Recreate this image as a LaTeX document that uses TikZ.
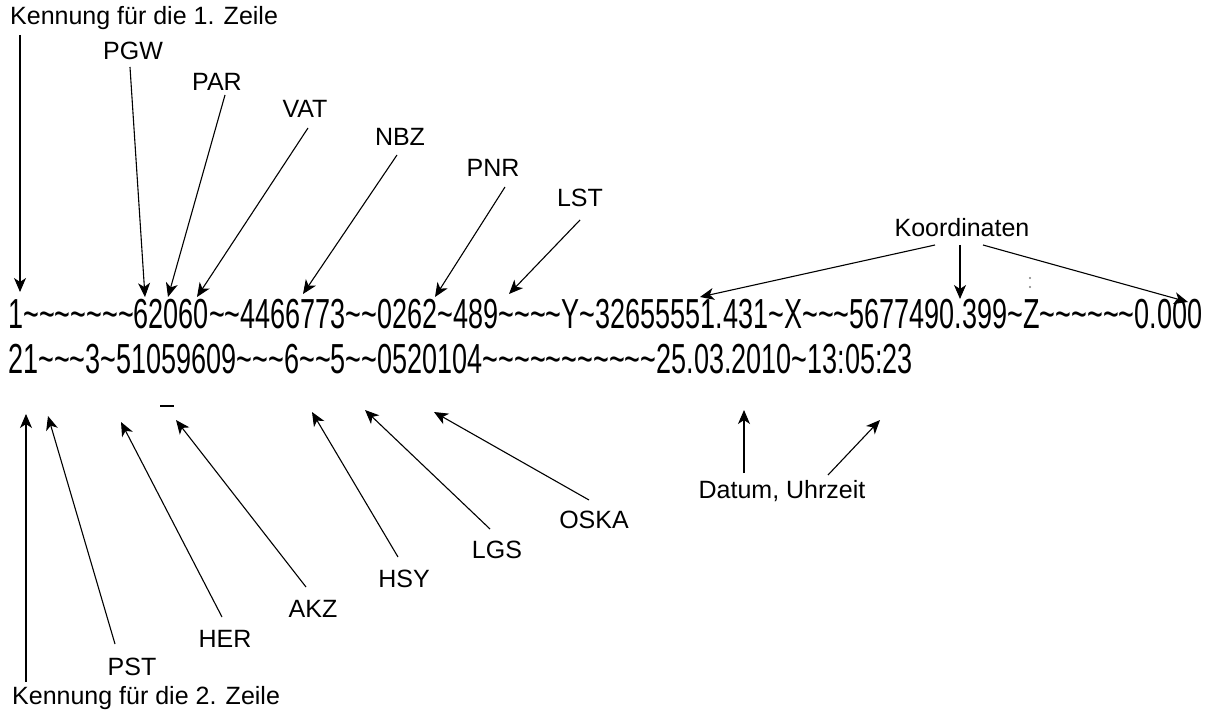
\documentclass[tikz,border=0pt]{standalone}
\usepackage{fontspec}
\setmainfont{Liberation Sans}
\usepackage{graphicx}
\usetikzlibrary{arrows.meta,calc}
\newcommand{\tld}{\textasciitilde}
\begin{document}
\begin{tikzpicture}[x=1pt,y=-1pt,
  lab/.style={font=\fontsize{25}{25}\selectfont, inner sep=3pt, text=black},
  codeline/.style={anchor=base west, inner sep=0pt},
  arr/.style={line width=1.1pt, -{Stealth[length=14pt,width=12pt,inset=4pt]}}]
\useasboundingbox[fill=white] (0,0) rectangle (1212,711);

% data lines
\node[codeline] (line1) at (8,328) {\scalebox{0.644}[1]{\fontsize{42}{42}\selectfont 1\tld\tld\tld\tld\tld\tld\tld 62060\tld\tld 4466773\tld\tld 0262\tld 489\tld\tld\tld\tld Y\tld 32655551.431\tld X\tld\tld\tld 5677490.399\tld Z\tld\tld\tld\tld\tld\tld 0.000}};
\node[codeline] (line2) at (8,373) {\scalebox{0.644}[1]{\fontsize{42}{42}\selectfont 21\tld\tld\tld 3\tld 51059609\tld\tld\tld 6\tld\tld 5\tld\tld 0520104\tld\tld\tld\tld\tld\tld\tld\tld\tld\tld\tld 25.03.2010\tld 13:05:23}};

% top labels
\node[lab, anchor=west] (kz1) at (7,18) {Kennung für die 1. Zeile};
\node[lab] (pgw) at (133,51) {PGW};
\node[lab] (par) at (217,82) {PAR};
\node[lab] (vat) at (305,109) {VAT};
\node[lab] (nbz) at (400,137) {NBZ};
\node[lab] (pnr) at (493,168) {PNR};
\node[lab] (lst) at (580,198) {LST};
\node[lab] (koord) at (962,228) {Koordinaten};

% bottom labels
\node[lab] (datum) at (782,491) {Datum, Uhrzeit};
\node[lab] (oska) at (594,520) {OSKA};
\node[lab] (lgs) at (497,550) {LGS};
\node[lab] (hsy) at (404,579) {HSY};
\node[lab] (akz) at (313,609) {AKZ};
\node[lab] (her) at (225,639) {HER};
\node[lab] (pst) at (132,667) {PST};
\node[lab, anchor=west] (kz2) at (9,698) {Kennung für die 2. Zeile};

% arrow tips, line 1
\coordinate (tkz1) at (20,292);
\coordinate (tpgw) at (145,297);
\coordinate (tpar) at (168,297);
\coordinate (tvat) at (197,297);
\coordinate (tnbz) at (303,294);
\coordinate (tpnr) at (435,297);
\coordinate (tlst) at (509,294);
\coordinate (tko1) at (700,297);
\coordinate (tko2) at (960,299);
\coordinate (tko3) at (1188,302);

% arrow tips, line 2
\coordinate (tkz2) at (26,414);
\coordinate (tpst) at (48,416);
\coordinate (ther) at (121,422);
\coordinate (takz) at (176,420);
\coordinate (thsy) at (312,412);
\coordinate (tlgs) at (365,410);
\coordinate (toska) at (434,412);
\coordinate (tdat) at (744,410);
\coordinate (tzeit) at (880,420);

% arrows to line 1
\draw[arr] ($(kz1.south west -| tkz1)+(0,2)$) -- (tkz1);
\draw[arr] ([shift={(-3,16)}]pgw.center) -- (tpgw);
\draw[arr] ([shift={(8,13)}]par.center) -- (tpar);
\draw[arr] ([shift={(3,19)}]vat.center) -- (tvat);
\draw[arr] ([shift={(-3,18)}]nbz.center) -- (tnbz);
\draw[arr] ([shift={(12,19)}]pnr.center) -- (tpnr);
\draw[arr] ([shift={(0,22)}]lst.center) -- (tlst);
\draw[arr] ([shift={(-27,17)}]koord.center) -- (tko1);
\draw[arr] ([shift={(-2,17)}]koord.center) -- (tko2);
\draw[arr] ([shift={(21,17)}]koord.center) -- (tko3);

% arrows to line 2
\draw[arr] ($(kz2.north west -| tkz2)+(0,-1)$) -- (tkz2);
\draw[arr] ([shift={(-17,-23)}]pst.center) -- (tpst);
\draw[arr] ([shift={(-3,-22)}]her.center) -- (ther);
\draw[arr] ([shift={(-7,-22)}]akz.center) -- (takz);
\draw[arr] ([shift={(-6,-22)}]hsy.center) -- (thsy);
\draw[arr] ([shift={(-7,-21)}]lgs.center) -- (tlgs);
\draw[arr] ([shift={(-5,-20)}]oska.center) -- (toska);
\draw[arr] ([shift={(-38,-18)}]datum.center) -- (tdat);
\draw[arr] ([shift={(46,-16)}]datum.center) -- (tzeit);

% small marks
\draw[line width=1.5pt] (160,406) -- (174,406);
\fill[gray] (1030,278) circle (1.1);
\fill[gray] (1030,287) circle (1.1);
\end{tikzpicture}
\end{document}
